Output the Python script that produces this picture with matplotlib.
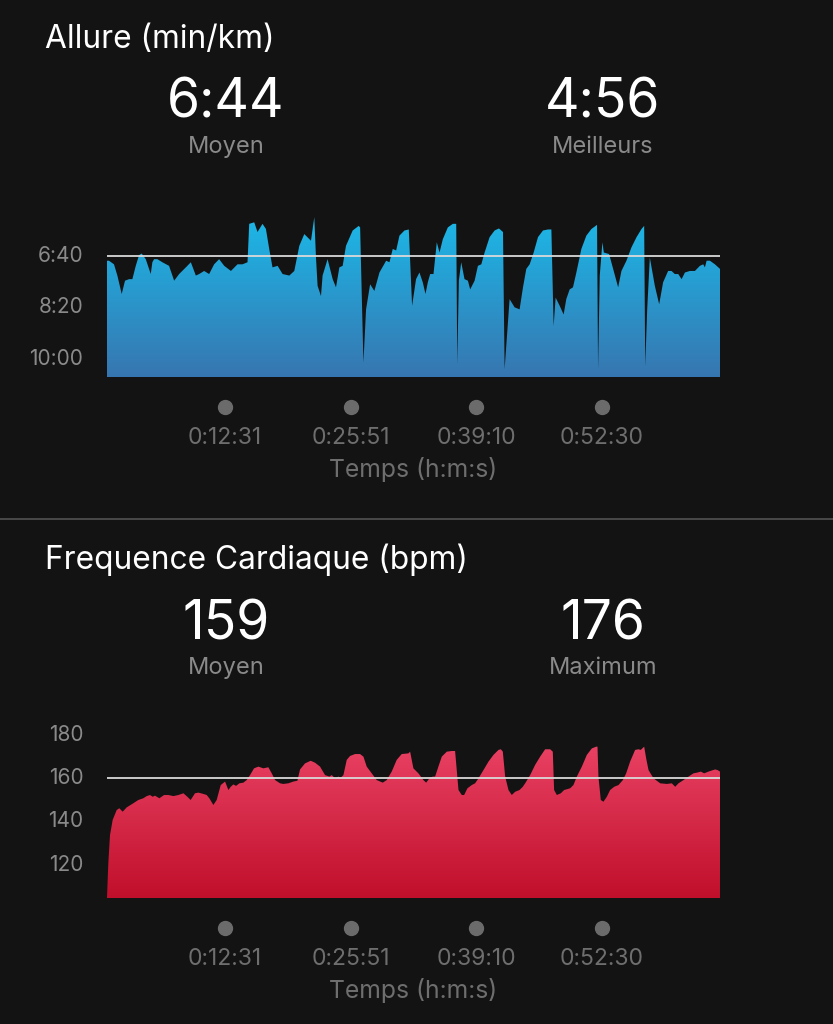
import numpy as np
import matplotlib
matplotlib.use('Agg')
import matplotlib.pyplot as plt
from matplotlib.colors import LinearSegmentedColormap
from matplotlib.lines import Line2D
from matplotlib.transforms import ScaledTranslation

plt.rcParams['font.family'] = ['Inter', 'DejaVu Sans']

BG = '#131313'
GREY = '#8a8a8a'
DARK_GREY = '#6e6e6e'

# --- data: pace (min/km, stored in seconds) over time (minutes) ---
pace_t = [0.0, 0.21, 0.74, 1.10, 1.56, 1.91, 2.34, 2.69, 3.05, 3.40, 3.68, 4.11, 4.64, 4.81, 4.99,
          5.34, 5.87, 6.58, 7.12, 7.65, 8.36, 8.89, 9.42, 9.77, 10.30, 10.83, 11.36, 11.89, 12.43,
          13.14, 13.84, 14.37, 14.90, 15.08, 15.61, 15.96, 16.49, 16.85, 17.20, 17.55, 18.09, 18.62,
          19.33, 19.86, 20.39, 20.92, 21.63, 21.98, 22.16, 22.33, 22.69, 22.86, 23.39, 23.93, 24.28,
          24.64, 24.99, 25.34, 26.05, 26.69, 26.84, 27.19, 27.47, 27.90, 28.35, 28.89, 29.60, 29.95,
          30.30, 30.66, 31.01, 31.54, 32.00, 32.35, 32.77, 33.13, 33.48, 33.77, 34.02, 34.27, 34.62,
          34.97, 35.26, 35.61, 36.14, 36.67, 37.03, 37.14, 37.31, 37.56, 37.91, 38.27, 38.51, 38.98,
          39.33, 39.69, 40.04, 40.57, 41.10, 41.56, 41.99, 42.16, 42.69, 43.22, 43.75, 44.11, 44.46,
          44.82, 45.24, 45.70, 46.23, 46.76, 47.12, 47.36, 47.57, 48.00, 48.42, 48.70, 49.06, 49.41,
          49.77, 50.30, 50.83, 51.37, 51.96, 52.07, 52.25, 52.53, 52.68, 53.24, 53.67, 54.20, 54.55,
          55.08, 55.61, 56.15, 56.68, 56.96, 57.07, 57.28, 57.56, 58.09, 58.55, 58.97, 59.50, 59.86,
          60.21, 60.57, 60.93, 61.28, 61.81, 62.34, 62.87, 63.22, 63.40, 63.58, 63.93, 64.46, 64.82,
          65.00]
pace_s = [413, 413, 420, 442, 478, 452, 449, 449, 423, 402, 399, 410, 439, 416, 410,
          410, 416, 423, 452, 439, 426, 416, 442, 439, 433, 439, 420, 410, 423,
          433, 420, 420, 416, 341, 338, 357, 341, 351, 390, 426, 423, 439,
          442, 433, 384, 361, 374, 328, 407, 462, 482, 442, 410, 449, 465,
          426, 423, 384, 354, 345, 348, 612, 508, 459, 472, 436, 413, 416,
          390, 393, 364, 354, 352, 501, 449, 436, 455, 478, 455, 439, 439,
          377, 397, 371, 348, 341, 341, 616, 452, 416, 449, 452, 469, 452,
          423, 420, 397, 367, 354, 350, 357, 625, 488, 504, 508, 465, 429,
          420, 397, 367, 354, 352, 352, 541, 485, 501, 518, 488, 469, 465,
          436, 390, 364, 351, 343, 625, 442, 377, 397, 400, 429, 465, 433,
          413, 387, 367, 351, 345, 619, 508, 407, 462, 498, 455, 433, 433,
          439, 439, 449, 436, 433, 433, 423, 420, 426, 413, 413, 420, 426,
          429]

# --- data: heart rate (bpm) over time (minutes) ---
hr_t = [0.0, 0.14, 0.32, 0.60, 1.03, 1.31, 1.66, 2.09, 2.79, 3.32, 3.85, 4.21, 4.56, 4.84, 5.09,
        5.55, 6.05, 6.51, 7.04, 7.57, 8.10, 8.52, 8.87, 9.33, 9.69, 10.22, 10.57, 10.85, 11.28,
        11.63, 12.06, 12.52, 12.87, 13.12, 13.40, 13.68, 14.04, 14.46, 14.81, 15.17, 15.59, 16.05,
        16.58, 17.11, 17.47, 17.82, 18.35, 18.70, 19.23, 19.76, 20.19, 20.47, 21.00, 21.60, 22.06,
        22.59, 23.12, 23.58, 23.83, 24.18, 24.54, 24.78, 25.07, 25.42, 25.77, 26.30, 26.83, 27.19,
        27.54, 28.07, 28.60, 29.24, 29.66, 30.19, 30.72, 31.25, 31.96, 32.14, 32.49, 33.02, 33.55,
        33.84, 34.19, 34.54, 34.79, 35.14, 35.50, 36.03, 36.56, 36.91, 37.27, 37.62, 37.87, 38.22,
        38.68, 39.03, 39.39, 39.92, 40.45, 40.98, 41.51, 41.76, 41.97, 42.22, 42.57, 42.92, 43.28,
        43.74, 44.09, 44.34, 44.87, 45.40, 45.93, 46.46, 46.99, 47.27, 47.41, 47.70, 48.12, 48.47,
        49.11, 49.46, 49.82, 50.35, 50.88, 51.41, 51.87, 52.01, 52.11, 52.36, 52.64, 53.00, 53.35,
        53.78, 54.24, 54.70, 55.05, 55.47, 56.00, 56.36, 56.60, 56.96, 57.17, 57.42, 57.95, 58.66,
        59.36, 59.89, 60.25, 60.60, 61.13, 61.66, 62.19, 62.54, 62.97, 63.32, 63.78, 64.13, 64.49,
        64.74, 65.0]
hr_bpm = [104, 119.7, 132.8, 139.7, 144.3, 145.1, 143.5, 145.5, 147.4, 148.9, 149.7, 150.7, 151.2, 150.4, 150.9,
          149.7, 151.2, 151.2, 150.7, 151.2, 152.0, 150.4, 148.9, 152.0, 152.3, 151.7, 151.2, 149.7, 146.6,
          148.9, 155.8, 157.4, 153.5, 155.0, 156.1, 155.4, 156.6, 156.9, 158.1, 160.4, 163.5, 164.3,
          163.5, 164.0, 161.2, 158.1, 156.6, 156.3, 156.6, 157.4, 157.8, 163.0, 165.8, 167.0, 166.1,
          164.3, 160.4, 159.7, 160.4, 158.9, 159.7, 159.2, 160.4, 167.4, 169.2, 170.1, 170.1, 168.9,
          164.3, 161.2, 158.1, 156.9, 158.1, 162.0, 167.4, 170.1, 170.4, 171.2, 163.5, 161.2, 158.1,
          156.9, 158.9, 159.7, 159.7, 164.3, 168.9, 171.2, 171.5, 171.5, 153.5, 151.2, 151.2, 154.3,
          155.8, 156.6, 158.9, 162.7, 166.6, 169.7, 172.0, 172.3, 171.2, 159.7, 153.5, 151.2, 152.7,
          153.5, 155.0, 156.6, 160.4, 165.1, 168.9, 172.3, 172.3, 171.2, 153.5, 151.2, 152.0, 153.5,
          154.3, 155.8, 159.7, 164.3, 169.7, 172.7, 173.5, 173.5, 159.7, 148.9, 148.1, 150.4, 153.5,
          155.0, 155.8, 158.1, 161.2, 166.6, 172.0, 172.3, 172.0, 173.5, 168.1, 162.7, 158.9, 156.6,
          156.3, 156.6, 155.0, 156.6, 158.1, 159.7, 161.2, 161.5, 162.0, 161.2, 162.0, 162.5, 163.0,
          162.7, 162.0]

assert len(pace_t) == len(pace_s), (len(pace_t), len(pace_s))
assert len(hr_t) == len(hr_bpm), (len(hr_t), len(hr_bpm))

time_ticks = [12.517, 25.85, 39.167, 52.5]
time_labels = ['0:12:31', '0:25:51', '0:39:10', '0:52:30']
pace_ticks = [400, 500, 600]
hr_ticks = [120, 140, 160, 180]

pace_avg, pace_best = 404, 296
hr_avg, hr_max = 159, 176

W, H = 833, 1024
fig = plt.figure(figsize=(W / 100, H / 100), dpi=100, facecolor=BG)


def fx(x):
    return x / W


def fy(y):
    return 1 - y / H


def mmss(s):
    s = int(round(s))
    return f'{s // 60}:{s % 60:02d}'


def gradient_area(ax, x, y, base, top_col, bot_col):
    poly = ax.fill_between(x, y, base, facecolor='none', edgecolor='none')
    cmap = LinearSegmentedColormap.from_list('g', [bot_col, top_col])
    grad = np.linspace(0, 1, 256).reshape(-1, 1)
    im = ax.imshow(grad, cmap=cmap, aspect='auto', origin='lower',
                   extent=[0, 1, 0, 1], transform=ax.transAxes, zorder=1)
    im.set_clip_path(poly.get_paths()[0], transform=ax.transData)


def panel(ax, x, y, base, ylim, top_col, bot_col, avg, ticks, fmt, dy):
    ax.set_facecolor(BG)
    gradient_area(ax, x, y, base, top_col, bot_col)
    ax.axhline(avg, color='#d9d9d9', lw=1.3, zorder=3)
    ax.set_xlim(0, 65)
    ax.set_ylim(*ylim)
    for s in ax.spines.values():
        s.set_visible(False)
    ax.set_xticks([])
    ax.set_yticks(ticks)
    ax.set_yticklabels([fmt(t) for t in ticks])
    ax.tick_params(axis='y', length=0, pad=17, labelsize=15, labelcolor=GREY)
    # time markers below the chart
    off = ScaledTranslation(0, -0.30, fig.dpi_scale_trans)
    ax.plot(time_ticks, [0] * len(time_ticks), 'o', ms=10, color='#6b6b6b',
            transform=ax.get_xaxis_transform() + off, clip_on=False)
    for t, lab in zip(time_ticks, time_labels):
        ax.annotate(lab, xy=(t, 0), xycoords=('data', 'axes fraction'),
                    xytext=(0, -67), textcoords='offset pixels',
                    ha='center', va='baseline', fontsize=16.5, color=DARK_GREY)
    fig.text(fx(413), fy(477 + dy), 'Temps (h:m:s)', ha='center', va='baseline',
             fontsize=17.8, color=DARK_GREY)


# --- top panel: pace ---
ax1 = fig.add_axes([fx(107), fy(377), fx(613), 167 / H])
panel(ax1, pace_t, pace_s, 640, (640, 314), '#1bbbea', '#3776b0', pace_avg,
      pace_ticks, mmss, 0)

fig.text(fx(45), fy(48), 'Allure (min/km)', fontsize=22.8, color='white', va='baseline')
fig.text(fx(226), fy(118), mmss(pace_avg), fontsize=38.5, color='white', ha='center', va='baseline')
fig.text(fx(603), fy(118), mmss(pace_best), fontsize=38.5, color='white', ha='center', va='baseline')
fig.text(fx(226), fy(153), 'Moyen', fontsize=17, color=GREY, ha='center', va='baseline')
fig.text(fx(603), fy(153), 'Meilleurs', fontsize=17, color=GREY, ha='center', va='baseline')

# separator
fig.add_artist(Line2D([0, 1], [fy(518.5)] * 2, color='#4d4d4d', lw=1.3))

# --- bottom panel: heart rate ---
ax2 = fig.add_axes([fx(107), fy(898), fx(613), 178 / H])
panel(ax2, hr_t, hr_bpm, 103.7, (103.7, 185.8), '#f04a6d', '#c00f2b', hr_avg,
      hr_ticks, lambda v: str(int(v)), 521)

fig.text(fx(45), fy(569), 'Frequence Cardiaque (bpm)', fontsize=22.8, color='white', va='baseline')
fig.text(fx(226), fy(639), str(hr_avg), fontsize=38.5, color='white', ha='center', va='baseline')
fig.text(fx(603), fy(639), str(hr_max), fontsize=38.5, color='white', ha='center', va='baseline')
fig.text(fx(226), fy(674), 'Moyen', fontsize=17, color=GREY, ha='center', va='baseline')
fig.text(fx(603), fy(674), 'Maximum', fontsize=17, color=GREY, ha='center', va='baseline')

fig.savefig('out.png', dpi=100, facecolor=BG)
